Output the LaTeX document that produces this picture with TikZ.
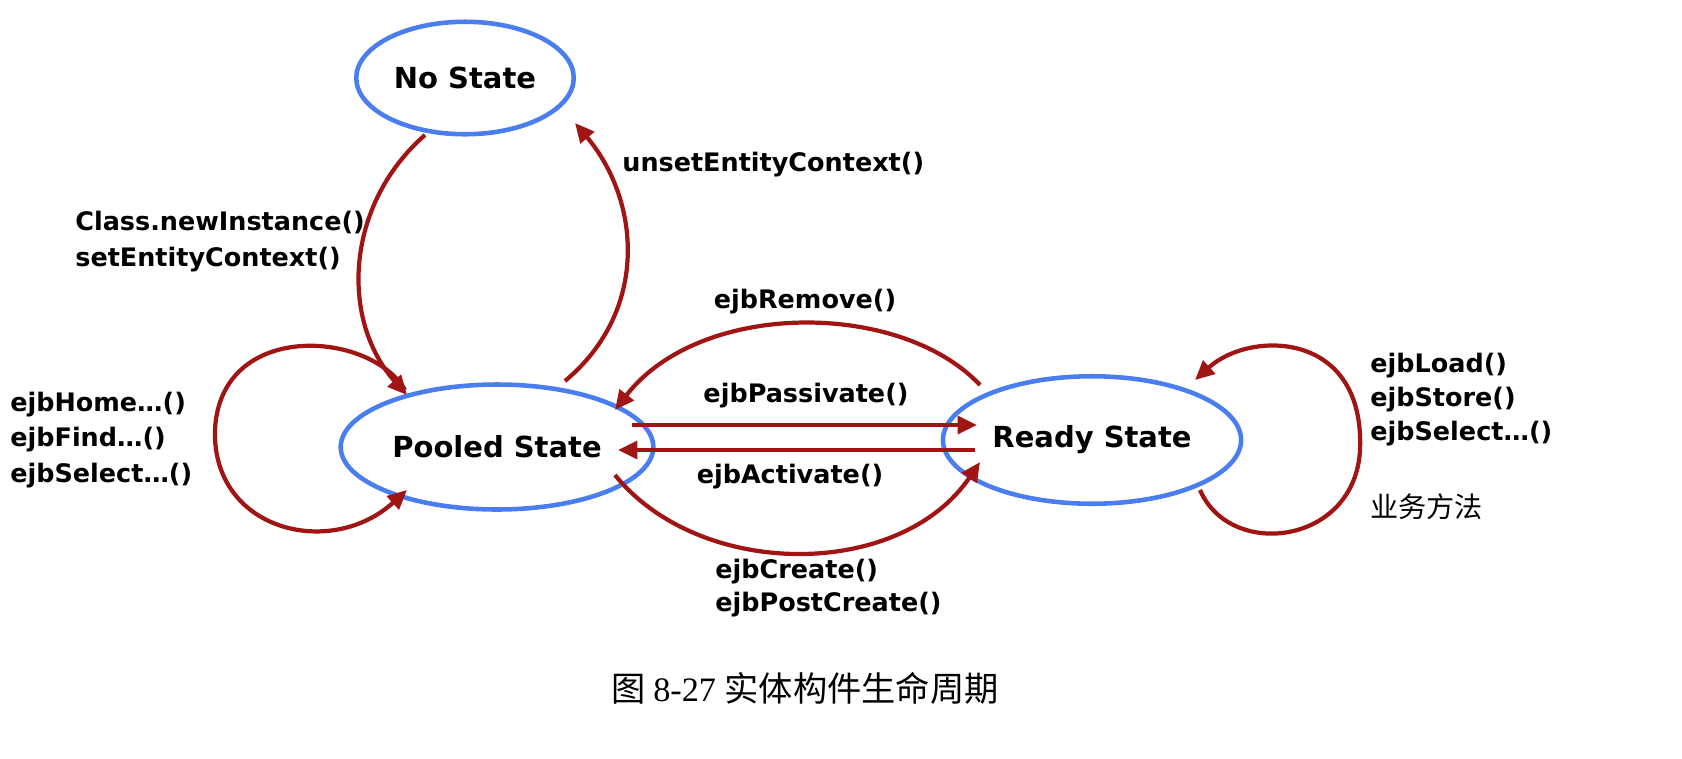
\documentclass[tikz,border=0pt]{standalone}
\usepackage{fontspec}
\setmainfont{DejaVu Sans}
\newfontfamily\cjk{Noto Sans CJK SC}
\newfontfamily\capser{Liberation Serif}
\usetikzlibrary{shapes.geometric,arrows.meta}
\definecolor{stblue}{HTML}{4A7EF0}
\definecolor{arred}{HTML}{A01414}
\begin{document}
\begin{tikzpicture}[x=0.02cm,y=-0.02cm,
  state/.style={draw=stblue,line width=2.6pt,ellipse,minimum width=5cm,minimum height=2.5cm,font=\fontsize{16.5}{19}\selectfont\bfseries},
  tr/.style={draw=arred,line width=2.4pt,-{Triangle[length=11pt,width=10pt]}},
  lbl/.style={font=\fontsize{14.5}{17}\selectfont\bfseries,inner sep=0pt},
  lbll/.style={lbl,anchor=west}]
\useasboundingbox (0,0) rectangle (1682,758);
\node[state,minimum width=4.2cm,minimum height=2.25cm] (no) at (465,78) {No State};
\node[state] (pool) at (497,447) {Pooled State};
\node[state,minimum width=5.1cm,minimum height=2.55cm] (ready) at (1092,440) {Ready State};
\coordinate (a1) at (425,135); \coordinate (a2) at (407,395);
\draw[tr] (a1) .. controls (345,205) and (340,320) .. (a2);
\coordinate (b1) at (565,381); \coordinate (b2) at (575,123);
\draw[tr] (b1) .. controls (650,310) and (640,200) .. (b2);
\coordinate (c1) at (405,390); \coordinate (c2) at (407,490);
\draw[tr] (c1) .. controls (370,330) and (220,320) .. (215,430) .. controls (212,530) and (330,560) .. (c2);
\coordinate (d1) at (980,385); \coordinate (d2) at (615,410);
\draw[tr] (d1) .. controls (900,300) and (700,300) .. (d2);
\coordinate (e1) at (632,425); \coordinate (e2) at (977,425);
\draw[tr] (e1) -- (e2);
\coordinate (f1) at (975,450); \coordinate (f2) at (618,450);
\draw[tr] (f1) -- (f2);
\coordinate (g1) at (615,475); \coordinate (g2) at (980,462);
\draw[tr] (g1) .. controls (700,580) and (900,580) .. (g2);
\coordinate (h1) at (1200,490); \coordinate (h2) at (1195,380);
\draw[tr] (h1) .. controls (1230,560) and (1355,545) .. (1360,450) .. controls (1365,330) and (1250,330) .. (h2);
\node[lbll] (l1) at (75,222) {Class.newInstance()};
\node[lbll] (l2) at (75,260) {setEntityContext()};
\node[lbll] (l3) at (622,165) {unsetEntityContext()};
\node[lbl] (l4) at (805,302) {ejbRemove()};
\node[lbl] (l5) at (806,396) {ejbPassivate()};
\node[lbl] (l6) at (790,477) {ejbActivate()};
\node[lbll] (l7) at (715,572) {ejbCreate()};
\node[lbll] (l8) at (715,605) {ejbPostCreate()};
\node[lbll] (l9) at (10,405) {ejbHome…()};
\node[lbll] (l10) at (10,440) {ejbFind…()};
\node[lbll] (l11) at (10,476) {ejbSelect…()};
\node[lbll] (l12) at (1370,366) {ejbLoad()};
\node[lbll] (l13) at (1370,400) {ejbStore()};
\node[lbll] (l14) at (1370,434) {ejbSelect…()};
\node[anchor=west,inner sep=0pt,font=\cjk\fontsize{16}{18}\selectfont] (l15) at (1370,507) {业务方法};
\node[inner sep=0pt,font=\fontsize{19.5}{22}\selectfont] (cap) at (805,688) {\cjk 图 \capser 8-27 \cjk 实体构件生命周期};
\end{tikzpicture}
\end{document}
